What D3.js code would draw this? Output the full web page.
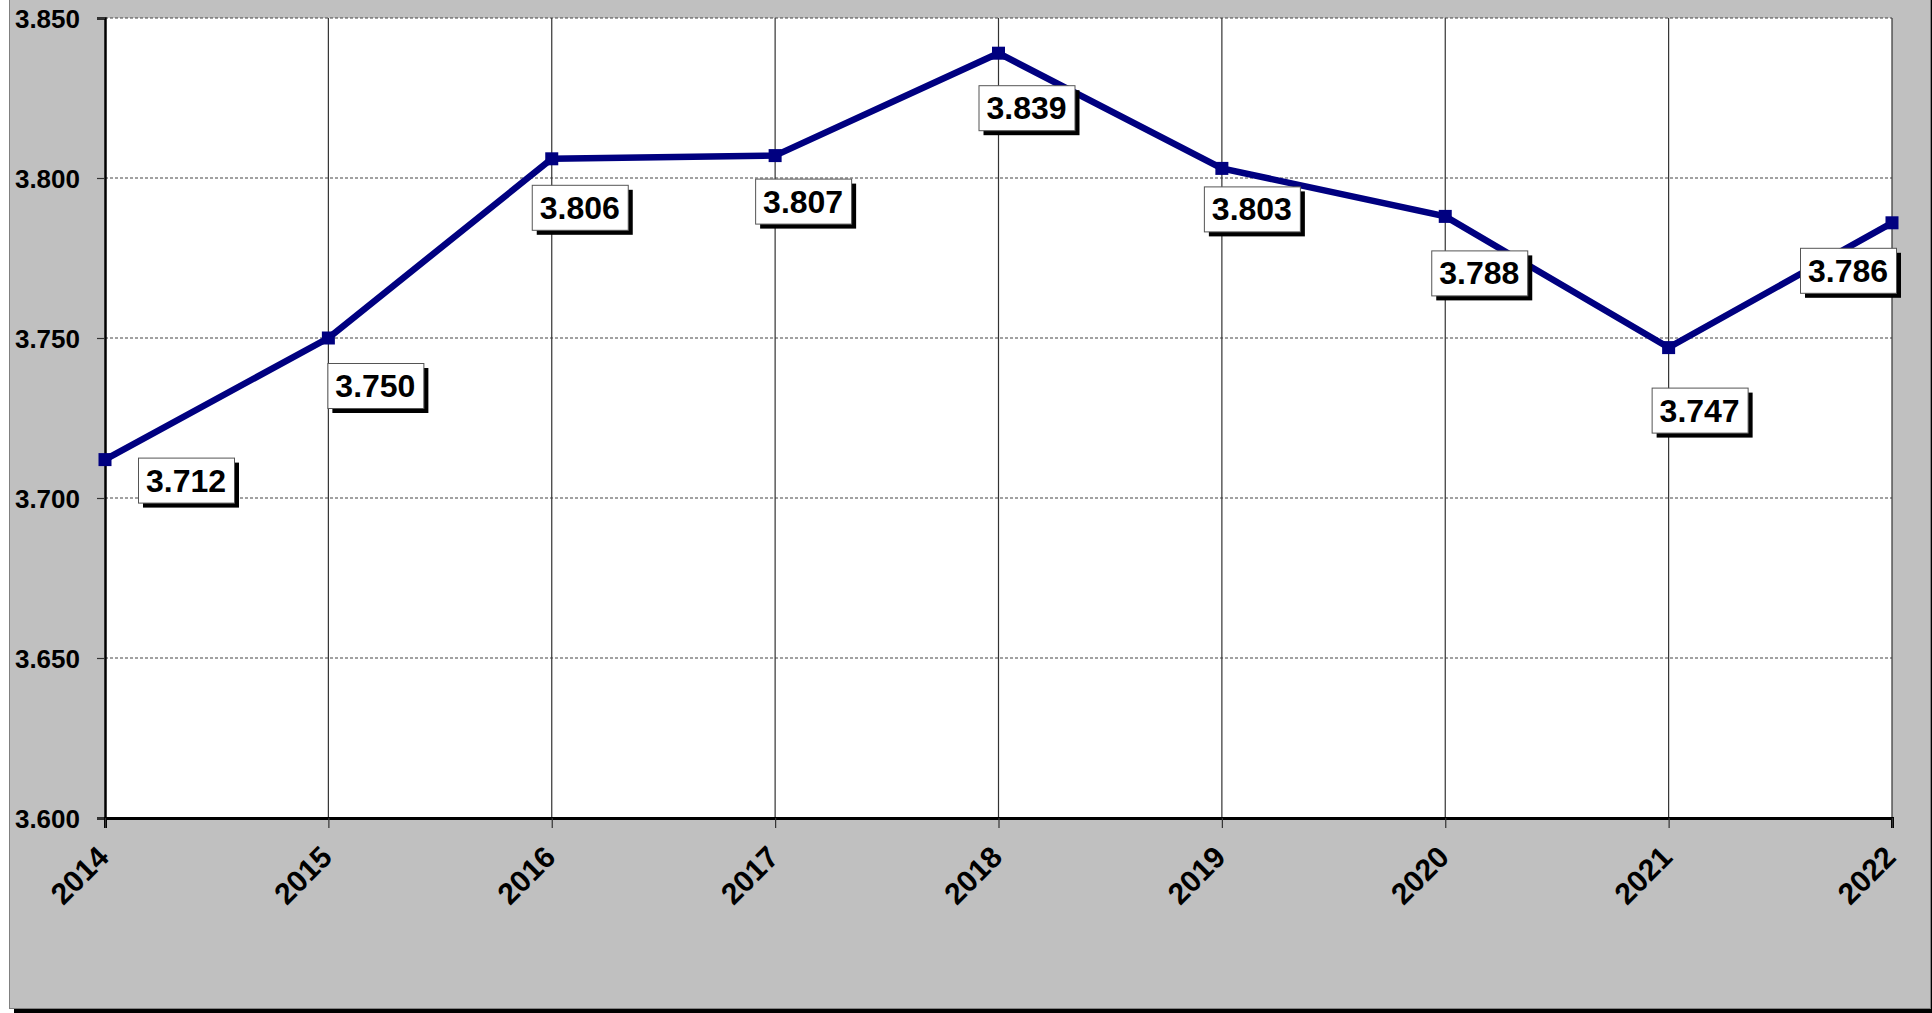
<!DOCTYPE html>
<html>
<head>
<meta charset="utf-8">
<script src="https://cdn.jsdelivr.net/npm/d3@7"></script>
<style>
html,body{margin:0;padding:0;background:#fff;}
svg{display:block;}
text{font-family:Arial,"Liberation Sans",sans-serif;font-weight:bold;fill:#000;}
</style>
</head>
<body>
<svg id="chart" width="1932" height="1013"></svg>
<script>
// ---- data ----
const years = ["2014","2015","2016","2017","2018","2019","2020","2021","2022"];
const values = [3.712, 3.750, 3.806, 3.807, 3.839, 3.803, 3.788, 3.747, 3.786];
const labels = ["3.712","3.750","3.806","3.807","3.839","3.803","3.788","3.747","3.786"];
const yTicks = [3.600, 3.650, 3.700, 3.750, 3.800, 3.850];
const yTickLabels = ["3.600","3.650","3.700","3.750","3.800","3.850"];
// label box placement (offset of box top-left from its point)
const labelDx = [33, -1, -20, -20, -20, -18, -14, -17, -92];
const labelDy = [-2, 25, 26, 23, 32, 18, 34, 40, 25];

const W = 1932, H = 1013;
const plot = {left:105, right:1892, top:18, bottom:818};
const svg = d3.select("#chart");

// chart area background with shadow
svg.append("rect").attr("x",14).attr("y",-10).attr("width",W).attr("height",1023).attr("fill","#000");
svg.append("rect").attr("x",9.5).attr("y",-10).attr("width",1921).attr("height",1018.5)
  .attr("fill","#c0c0c0").attr("stroke","#808080").attr("stroke-width",1);

// plot area
svg.append("rect").attr("x",plot.left).attr("y",plot.top)
  .attr("width",plot.right-plot.left).attr("height",plot.bottom-plot.top).attr("fill","#fff");

const x = d3.scalePoint().domain(years).range([plot.left, plot.right]);
const y = d3.scaleLinear().domain([3.6, 3.85]).range([plot.bottom, plot.top]);

// horizontal dashed gridlines
svg.append("g").selectAll("line").data(yTicks.slice(1)).join("line")
  .attr("x1",plot.left).attr("x2",plot.right)
  .attr("y1",d=>y(d)).attr("y2",d=>y(d))
  .attr("stroke","#444").attr("stroke-width",1).attr("stroke-dasharray","3,2");

// vertical gridlines
svg.append("g").selectAll("line").data(years.slice(1)).join("line")
  .attr("x1",d=>x(d)).attr("x2",d=>x(d))
  .attr("y1",plot.top).attr("y2",plot.bottom)
  .attr("stroke","#333").attr("stroke-width",1.2);

// y axis
const yAxis = d3.axisLeft(y).tickValues(yTicks).tickSize(8).tickPadding(17)
  .tickFormat((d,i)=>yTickLabels[i]);
const gy = svg.append("g").attr("transform",`translate(${plot.left},0)`).call(yAxis);
gy.select(".domain").attr("stroke","#000").attr("stroke-width",2.5);
gy.selectAll(".tick line").attr("stroke","#333").attr("stroke-width",1.2);
gy.selectAll(".tick text").attr("font-size",26).attr("font-family","Arial, 'Liberation Sans', sans-serif")
  .attr("font-weight","bold").attr("fill","#000").attr("dy","0.36em");

// x axis
const xAxis = d3.axisBottom(x).tickSize(10).tickFormat(d=>d);
const gx = svg.append("g").attr("transform",`translate(0,${plot.bottom})`).call(xAxis);
gx.select(".domain").attr("stroke","#000").attr("stroke-width",3);
gx.selectAll(".tick line").attr("stroke","#333").attr("stroke-width",1.2);
gx.selectAll(".tick text")
  .attr("font-size",30).attr("font-family","Arial, 'Liberation Sans', sans-serif")
  .attr("font-weight","bold").attr("fill","#000")
  .attr("text-anchor","end").attr("dy",null).attr("y",null)
  .attr("transform","translate(5,41) rotate(-45)");

// line
const line = d3.line().x((d,i)=>x(years[i])).y(d=>y(d));
svg.append("path").datum(values).attr("d",line)
  .attr("fill","none").attr("stroke","#000080").attr("stroke-width",6.5)
  .attr("stroke-linejoin","miter");

// markers
const ms = 13;
svg.append("g").selectAll("rect").data(values).join("rect")
  .attr("x",(d,i)=>x(years[i])-ms/2).attr("y",d=>y(d)-ms/2)
  .attr("width",ms).attr("height",ms).attr("fill","#000080");

// data labels
const lg = svg.append("g");
values.forEach((v,i)=>{
  const px = x(years[i]), py = y(v);
  const g = lg.append("g").attr("transform",`translate(${px+labelDx[i]},${py+labelDy[i]})`);
  const shadow = g.append("rect");
  const box = g.append("rect");
  const t = g.append("text").text(labels[i]).attr("font-size",32)
    .attr("text-anchor","middle").attr("y",34);
  const tw = t.node().getComputedTextLength();
  const bw = Math.round(tw + 16), bh = 45;
  t.attr("x", bw/2);
  shadow.attr("x",5).attr("y",5).attr("width",bw).attr("height",bh).attr("fill","#000");
  box.attr("x",0.5).attr("y",0.5).attr("width",bw).attr("height",bh)
    .attr("fill","#fff").attr("stroke","#555").attr("stroke-width",1);
});
</script>
</body>
</html>
